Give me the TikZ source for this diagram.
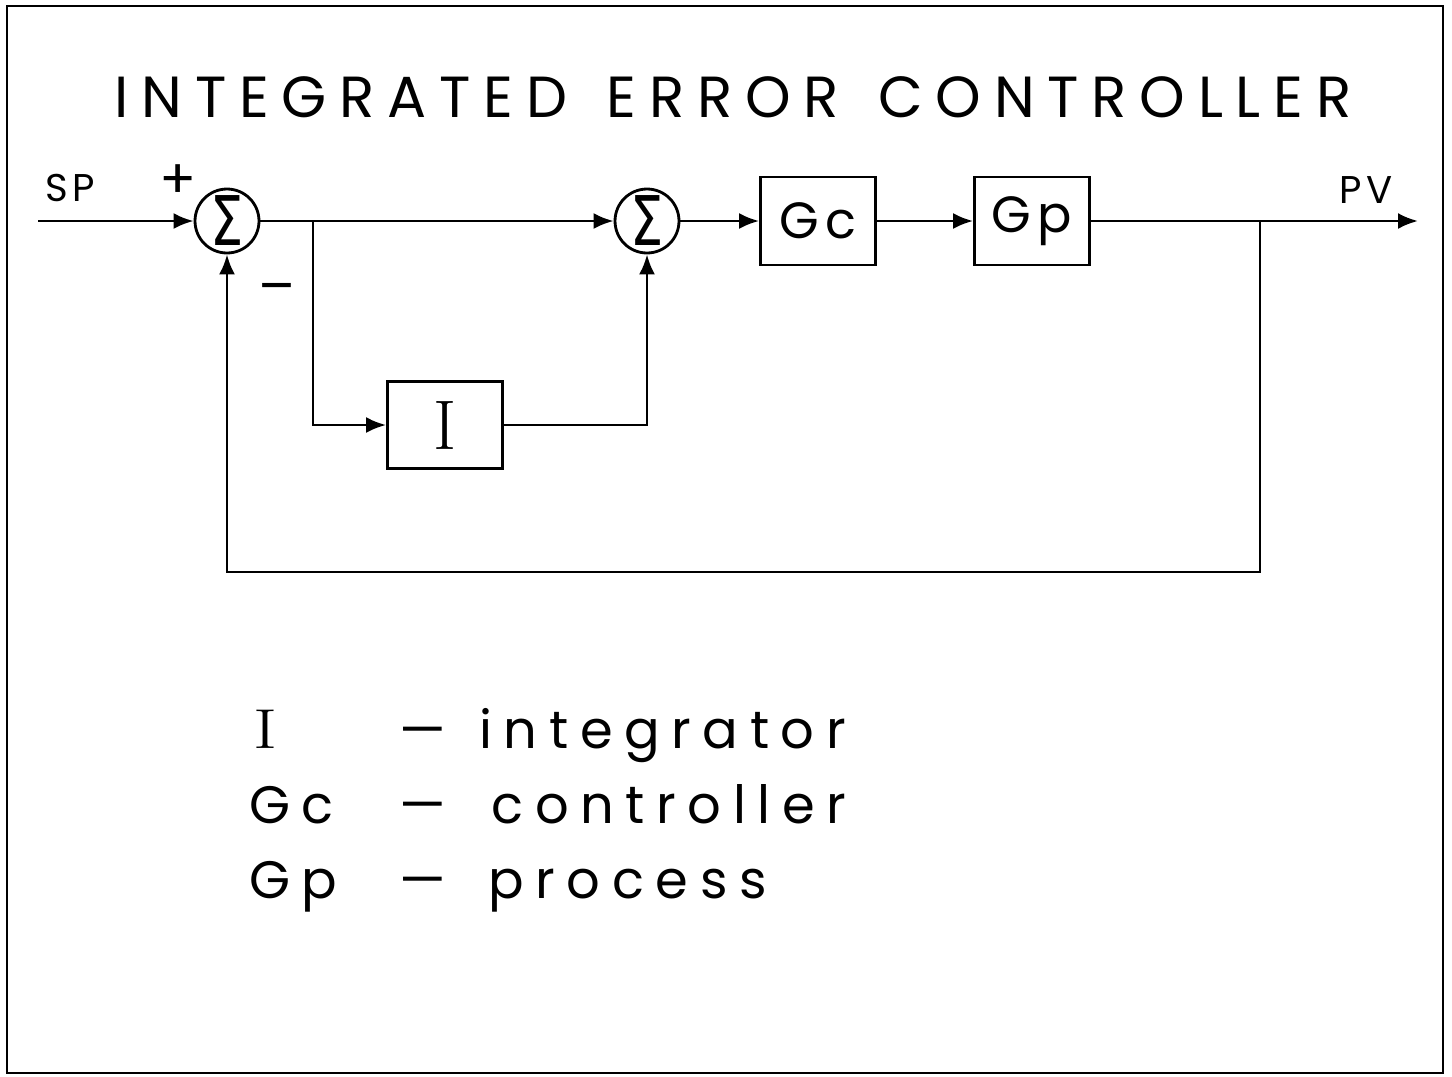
\documentclass[tikz,border=0pt]{standalone}
\usepackage{fontspec}
\newfontfamily\plotfont{Poppins}[LetterSpace=12]
\newfontfamily\widefont{Poppins}[LetterSpace=22,WordSpace=1.4]
\newfontfamily\greekfont{DejaVu Sans}
\usepackage{graphicx}
\usepackage{tikz}
\usetikzlibrary{arrows.meta,positioning}

\begin{document}
\begin{tikzpicture}[x=0.02cm,y=-0.02cm,line width=1.6pt]
  \tikzstyle{sumnode}=[circle,draw,line width=1.6pt,minimum size=1.28cm,inner sep=0pt,font=\greekfont\fontsize{26}{26}\selectfont]
  \tikzstyle{blockbox}=[rectangle,draw,line width=1.6pt,minimum width=2.3cm,minimum height=1.76cm,inner sep=0pt,font=\plotfont\fontsize{29}{32}\selectfont]
  \tikzstyle{sig}=[font=\plotfont\fontsize{22}{24}\selectfont,inner sep=0pt]
  \tikzstyle{signbox}=[font=\plotfont\fontsize{31}{31}\selectfont,inner sep=0pt]
  \tikzstyle{legend}=[font=\widefont\fontsize{30}{34}\selectfont,anchor=base west,inner sep=0pt]

  \useasboundingbox (0,0) rectangle (1452,1076);
  \draw (7,6) rectangle (1443,1073);

  \node[font=\widefont\fontsize{33}{36}\selectfont] (title) at (733,97) {INTEGRATED ERROR CONTROLLER};

  \node[sumnode] (sum1) at (227,221) {\scalebox{1.15}[1.5]{Σ}};
  \node[sumnode] (sum2) at (647,221) {\scalebox{1.15}[1.5]{Σ}};
  \node[blockbox] (gc) at (818,221) {Gc};
  \node[blockbox] (gp) at (1032,221) {Gp};
  \node[blockbox,minimum height=1.74cm] (intg) at (445,425) {\fontsize{40}{40}\selectfont\rmfamily I};

  \node[sig] (sp) at (70,188) {SP};
  \node[sig] (pv) at (1366,190) {PV};
  \node[signbox] (plus) at (178,182) {+};
  \node[signbox] (minus) at (277,294) {–};

  \coordinate (in) at (38,221);
  \coordinate (out) at (1418,221);
  \coordinate (split) at (313,221);
  \coordinate (tap) at (1260,221);
  \coordinate (ret) at (1260,572);

  \draw[-{Latex[length=4mm,width=3.2mm]}] (in) -- (sum1);
  \draw[-{Latex[length=4mm,width=3.2mm]}] (sum1) -- (sum2);
  \draw[-{Latex[length=4mm,width=3.2mm]}] (split) |- (intg);
  \draw[-{Latex[length=4mm,width=3.2mm]}] (intg) -| (sum2);
  \draw[-{Latex[length=4mm,width=3.2mm]}] (sum2) -- (gc);
  \draw[-{Latex[length=4mm,width=3.2mm]}] (gc) -- (gp);
  \draw[-{Latex[length=4mm,width=3.2mm]}] (gp) -- (out);
  \draw[-{Latex[length=4mm,width=3.2mm]}] (tap) -- (ret) -| (sum1);

  % legend
  \node[legend] (symI) at (252,748) {\fontsize{32}{34}\selectfont\rmfamily\scalebox{1.3}[1]{I}};
  \node[legend] (dashI) at (398,748) {—};
  \node[legend] (descI) at (478,748) {integrator};
  \node[legend] (symGc) at (248,823) {Gc};
  \node[legend] (dashGc) at (398,823) {—};
  \node[legend] (descGc) at (490,823) {controller};
  \node[legend] (symGp) at (248,898) {Gp};
  \node[legend] (dashGp) at (398,898) {—};
  \node[legend] (descGp) at (487,898) {process};
\end{tikzpicture}
\end{document}
